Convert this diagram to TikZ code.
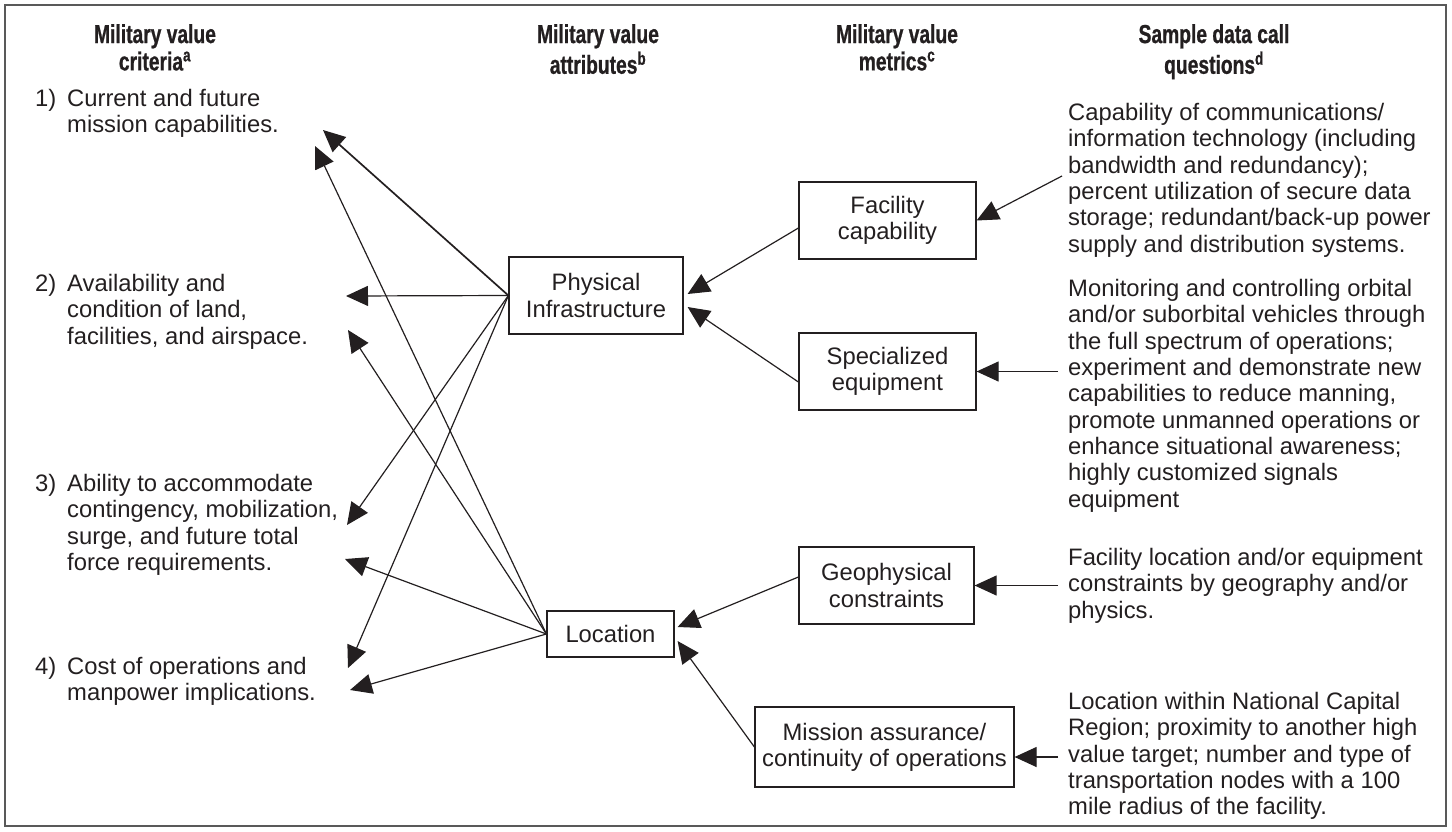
\documentclass[tikz,border=0pt]{standalone}
\usepackage{fontspec}
\setmainfont{Liberation Sans}
\newfontfamily\hdrfont[FakeStretch=0.74,FakeBold=0.8]{Liberation Sans}
\usetikzlibrary{arrows.meta,calc}
\definecolor{ink}{HTML}{231F20}
\newcommand{\bodyfs}{\fontsize{23.8}{26.3}\selectfont}
\newcommand{\hdrfs}{\hdrfont\bfseries\fontsize{26}{25}\selectfont}
\begin{document}
\begin{tikzpicture}[x=1pt,y=-1pt,
  every node/.style={text=ink},
  box/.style={draw=ink, line width=1.2pt, align=center, inner sep=0pt, font=\bodyfs},
  txt/.style={anchor=north west, align=left, inner sep=0pt, font=\bodyfs},
  hdr/.style={anchor=north, align=center, inner sep=0pt, font=\hdrfs},
  arr/.style={draw=ink, -{Triangle[length=22pt,width=20pt]}, line width=1.2pt},
  arrb/.style={arr, line width=1.7pt}]
\useasboundingbox (0,0) rectangle (1452,831);
\draw[black!65, line width=2pt] (5,5) rectangle (1446,826);

% headers
\node[hdr] (h1) at (155,24) {\strut Military value\\criteria\textsuperscript{a}};
\node[hdr] (h2) at (598,24) {\strut Military value\\attributes\textsuperscript{b}};
\node[hdr] (h3) at (897,24) {\strut Military value\\metrics\textsuperscript{c}};
\node[hdr] (h4) at (1214,24) {\strut Sample data call\\questions\textsuperscript{d}};

% criteria
\node[txt] (n1) at (35,88) {\strut 1)};
\node[txt] (c1) at (67,88) {\strut Current and future\\mission capabilities.};
\node[txt] (n2) at (35,273) {\strut 2)};
\node[txt] (c2) at (67,273) {\strut Availability and\\condition of land,\\facilities, and airspace.};
\node[txt] (n3) at (35,473) {\strut 3)};
\node[txt] (c3) at (67,473) {\strut Ability to accommodate\\contingency, mobilization,\\surge, and future total\\force requirements.};
\node[txt] (n4) at (35,656) {\strut 4)};
\node[txt] (c4) at (67,656) {\strut Cost of operations and\\manpower implications.};

% attributes
\node[box, minimum width=174pt, minimum height=77pt] (pi) at (596,295.5) {Physical\\Infrastructure};
\node[box, minimum width=127pt, minimum height=46pt] (loc) at (610.5,634) {Location};

% metrics
\node[box, minimum width=177pt, minimum height=77pt] (fac) at (887.5,220.5) {Facility\\capability};
\node[box, minimum width=177pt, minimum height=77pt] (spe) at (887.5,371.5) {Specialized\\equipment};
\node[box, minimum width=175pt, minimum height=77pt] (geo) at (886.5,585.5) {Geophysical\\constraints};
\node[box, minimum width=259pt, minimum height=80pt] (mis) at (884.5,747) {Mission assurance/\\continuity of operations};

% questions
\node[txt] (q1) at (1068,102) {\strut Capability of communications/\\information technology (including\\bandwidth and redundancy);\\percent utilization of secure data\\storage; redundant/back-up power\\supply and distribution systems.};
\node[txt] (q2) at (1068,278) {\strut Monitoring and controlling orbital\\and/or suborbital vehicles through\\the full spectrum of operations;\\experiment and demonstrate new\\capabilities to reduce manning,\\promote unmanned operations or\\enhance situational awareness;\\highly customized signals\\equipment};
\node[txt] (q3) at (1068,547) {\strut Facility location and/or equipment\\constraints by geography and/or\\physics.};
\node[txt] (q4) at (1068,691) {\strut Location within National Capital\\Region; proximity to another high\\value target; number and type of\\transportation nodes with a 100\\mile radius of the facility.};

% arrow tips at the criteria
\coordinate (t1a) at (323,130);
\coordinate (t1b) at (315,146);
\coordinate (t2a) at (346,296);
\coordinate (t2b) at (348,330);
\coordinate (t3a) at (347,525);
\coordinate (t3b) at (345,559);
\coordinate (t4a) at (348,668);
\coordinate (t4b) at (350,690);

\draw[arrb] (pi.west) -- (t1a);
\draw[arr] (pi.west) -- (t2a);
\draw[arr] (pi.west) -- (t3a);
\draw[arr] (pi.west) -- (t4a);
\draw[arr] (loc.west) -- (t1b);
\draw[arr] (loc.west) -- (t2b);
\draw[arr] (loc.west) -- (t3b);
\draw[arr] (loc.west) -- (t4b);

% metrics to attributes
\draw[arr] ($(fac.west)+(0,7.5)$) -- ($(pi.east)+(4,-1.5)$);
\draw[arr] ($(spe.west)+(0,10.5)$) -- ($(pi.east)+(4,11.5)$);
\draw[arr] ($(geo.west)+(0,-8.5)$) -- ($(loc.east)+(3,-7)$);
\draw[arr] (mis.west) -- ($(loc.east)+(3,7)$);

% questions to metrics
\coordinate (s1) at (1062,176);
\coordinate (s2) at (1058,371.5);
\coordinate (s3) at (1058,585.5);
\coordinate (s4) at (1058,757);
\draw[arr] (s1) -- (fac.east);
\draw[arr] (s2) -- (spe.east);
\draw[arr] (s3) -- (geo.east);
\draw[arr] (s4) -- (mis.east |- s4);
\end{tikzpicture}
\end{document}
